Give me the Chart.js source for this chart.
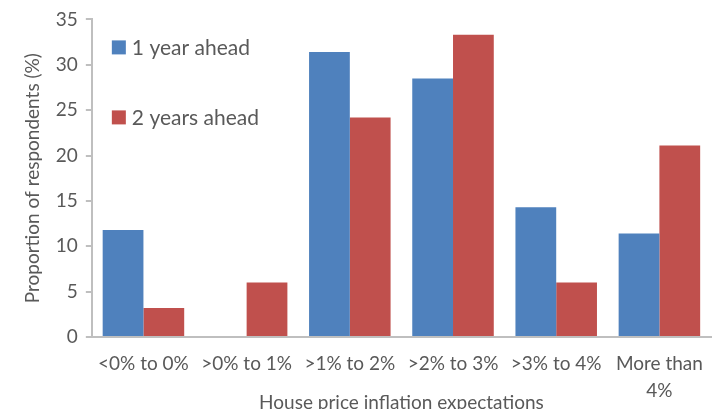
<!DOCTYPE html>
<html>
<head>
<meta charset="utf-8">
<script src="https://cdn.jsdelivr.net/npm/chart.js@4.4.1/dist/chart.umd.min.js"></script>
<style>
  html, body { margin: 0; padding: 0; background: #fff; overflow: hidden; }
  #wrap { width: 722px; height: 414px; }
</style>
</head>
<body>
<div id="wrap"><canvas id="myChart"></canvas></div>
<script>
const categories = ['<0% to 0%', '>0% to 1%', '>1% to 2%', '>2% to 3%', '>3% to 4%', ['More than', '4%']];
const oneYearAhead = [11.8, 0, 31.4, 28.5, 14.3, 11.4];
const twoYearsAhead = [3.2, 6.0, 24.2, 33.3, 6.0, 21.1];
const yTicks = [0, 5, 10, 15, 20, 25, 30, 35];

const textColor = '#595959';
const axisColor = '#BFBFBF';
const fontFamily = 'Lato, "Open Sans", sans-serif';

// legend drawn inside the plot, stacked at top-left like the original
const insideLegend = {
  id: 'insideLegend',
  afterDraw(chart) {
    const { ctx, chartArea } = chart;
    ctx.save();
    ctx.font = '21px ' + fontFamily;
    ctx.textBaseline = 'middle';
    chart.data.datasets.forEach((ds, i) => {
      const x = chartArea.left + 20;
      const y = chartArea.top + 28 + i * 70;
      ctx.fillStyle = ds.backgroundColor;
      ctx.fillRect(x, y - 7, 14, 14);
      ctx.fillStyle = textColor;
      ctx.fillText(ds.label, x + 20, y + 1);
    });
    ctx.restore();
  }
};

const ctx = document.getElementById('myChart').getContext('2d');

const data = {
  labels: categories,
  datasets: [
    {
      label: '1 year ahead',
      data: oneYearAhead,
      backgroundColor: '#4F81BD',
      borderWidth: 0,
    },
    {
      label: '2 years ahead',
      data: twoYearsAhead,
      backgroundColor: '#C0504D',
      borderWidth: 0,
    },
  ],
};

const config = {
  type: 'bar',
  data: data,
  plugins: [insideLegend],
  options: {
    responsive: true,
    maintainAspectRatio: false,
    animation: false,
    layout: { padding: { top: 11, right: 11, left: 17, bottom: 0 } },
    datasets: { bar: { categoryPercentage: 0.79, barPercentage: 1.0 } },
    plugins: {
      legend: { display: false },
      tooltip: { enabled: false },
    },
    scales: {
      x: {
        grid: { display: true, drawOnChartArea: false, drawTicks: false, color: 'rgba(0,0,0,0)' },
        border: { display: true, color: axisColor, width: 2 },
        ticks: { color: textColor, font: { family: fontFamily, size: 19, lineHeight: 1.4 }, padding: 14, maxRotation: 0, autoSkip: false },
        title: { display: true, text: 'House price inflation expectations', color: textColor, font: { family: fontFamily, size: 19, lineHeight: 1.2 }, padding: { top: -27, bottom: 0 } },
      },
      y: {
        min: 0,
        max: 35,
        afterBuildTicks(axis) { axis.ticks = yTicks.map(v => ({ value: v })); },
        grid: { display: true, drawOnChartArea: false, drawTicks: true, tickLength: 6, color: axisColor, lineWidth: 2 },
        border: { display: true, color: axisColor, width: 2 },
        ticks: { color: textColor, font: { family: fontFamily, size: 19 }, padding: 8 },
        title: { display: true, text: 'Proportion of respondents (%)', color: textColor, font: { family: fontFamily, size: 19 }, padding: { bottom: 4 } },
      },
    },
  },
};

const myChart = new Chart(ctx, config);
</script>
</body>
</html>
